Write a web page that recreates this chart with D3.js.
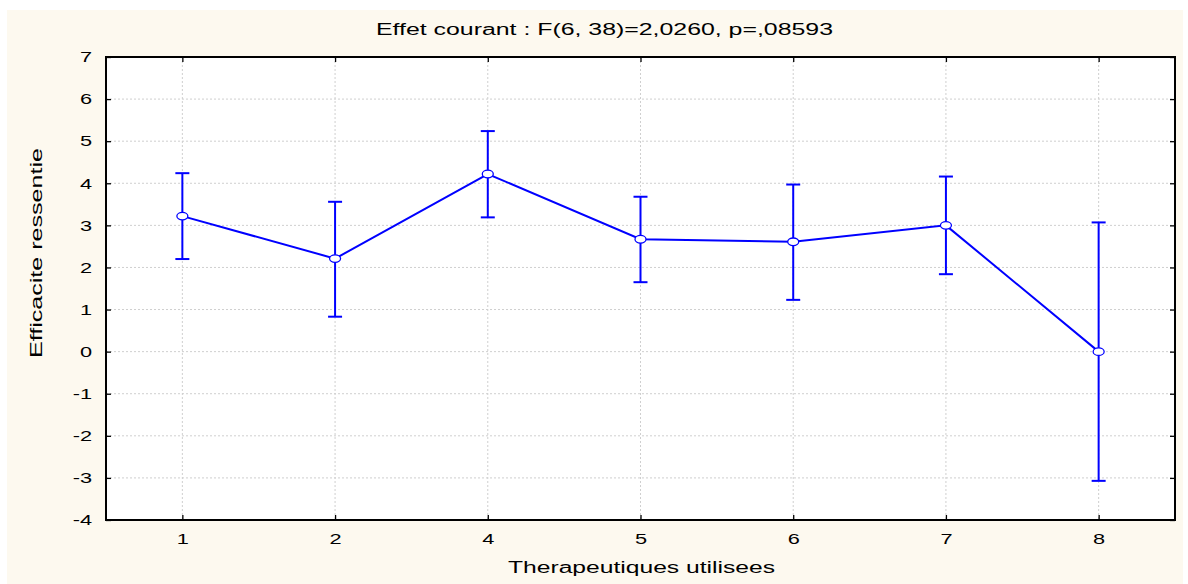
<!DOCTYPE html>
<html><head><meta charset="utf-8">
<script src="https://cdn.jsdelivr.net/npm/d3@7"></script>
<style>body{margin:0;background:#fff;} svg{display:block;} text{font-family:"Liberation Sans",Arial,sans-serif;fill:#000;}</style>
</head><body>
<svg id="c" width="1188" height="584"></svg>
<script>
const categories = ["1","2","4","5","6","7","8"];
const means = [3.22, 2.21, 4.22, 2.67, 2.61, 3.0, 0.0];
const upper = [4.24, 3.56, 5.24, 3.68, 3.97, 4.16, 3.07];
const lower = [2.20, 0.83, 3.19, 1.65, 1.23, 1.84, -3.07];
const yTicks = [-4,-3,-2,-1,0,1,2,3,4,5,6,7];
const titleText = "Effet courant : F(6, 38)=2,0260, p=,08593";
const xLabel = "Therapeutiques utilisees";
const yLabel = "Efficacite ressentie";

const svg = d3.select("#c");
const L=106, T=57, R=1175, B=520;
svg.append("rect").attr("x",7).attr("y",10).attr("width",1176).attr("height",574).attr("fill","#fdf9ef");
svg.append("rect").attr("x",L).attr("y",T).attr("width",R-L).attr("height",B-T).attr("fill","#fff");

const x = d3.scalePoint().domain(categories).range([L,R]).padding(0.5);
const y = d3.scaleLinear().domain([-4,7]).range([B,T]);

function stretch(sel, f){
  sel.each(function(){
    const w = this.getComputedTextLength();
    d3.select(this).attr("textLength", w*f).attr("lengthAdjust","spacingAndGlyphs");
  });
}
function fitTo(sel, w){ sel.attr("textLength", w).attr("lengthAdjust","spacingAndGlyphs"); }

// grid
const g = svg.append("g");
g.selectAll(".hg").data(yTicks.filter(v=>v>-4&&v<7)).join("line")
  .attr("x1",L).attr("x2",R).attr("y1",d=>y(d)).attr("y2",d=>y(d))
  .attr("stroke","#cfcfcf").attr("stroke-width",1).attr("stroke-dasharray","2,2");
g.selectAll(".vg").data(categories).join("line")
  .attr("y1",T).attr("y2",B).attr("x1",d=>x(d)).attr("x2",d=>x(d))
  .attr("stroke","#cfcfcf").attr("stroke-width",1).attr("stroke-dasharray","2,2");

// axes
const ax = (gen, tr) => {
  const a = svg.append("g").attr("transform",tr).call(gen);
  a.select(".domain").remove();
  a.selectAll("line").attr("stroke","#000").attr("stroke-width",1.3);
  a.selectAll("text").style("font-size","15px").style("font-family",'"Liberation Sans",Arial,sans-serif').attr("fill","#000");
  return a;
};
const xa = ax(d3.axisBottom(x).tickSizeInner(-5).tickSizeOuter(0).tickPadding(13), `translate(0,${B})`);
stretch(xa.selectAll("text"), 1.45);
ax(d3.axisTop(x).tickSizeInner(-5).tickSizeOuter(0).tickFormat(""), `translate(0,${T})`);
const ya = ax(d3.axisLeft(y).tickValues(yTicks).tickSizeInner(-5).tickSizeOuter(0).tickPadding(14).tickFormat(d3.format("d")), `translate(${L},0)`);
ya.selectAll("text").text(d=>String(d));
stretch(ya.selectAll("text"), 1.45);
ax(d3.axisRight(y).tickValues(yTicks).tickSizeInner(-5).tickSizeOuter(0).tickFormat(""), `translate(${R},0)`);

svg.append("rect").attr("x",L).attr("y",T).attr("width",R-L).attr("height",B-T)
  .attr("fill","none").attr("stroke","#000").attr("stroke-width",2);

// error bars
const blue="#0000ff";
const eb = svg.append("g").attr("stroke",blue).attr("stroke-width",2);
categories.forEach((c,i)=>{
  const cx=x(c);
  eb.append("line").attr("x1",cx).attr("x2",cx).attr("y1",y(upper[i])).attr("y2",y(lower[i]));
  eb.append("line").attr("x1",cx-7).attr("x2",cx+7).attr("y1",y(upper[i])).attr("y2",y(upper[i]));
  eb.append("line").attr("x1",cx-7).attr("x2",cx+7).attr("y1",y(lower[i])).attr("y2",y(lower[i]));
});
svg.append("path").datum(means).attr("fill","none").attr("stroke",blue).attr("stroke-width",2)
  .attr("d",d3.line().x((d,i)=>x(categories[i])).y(d=>y(d)));
svg.selectAll(".pt").data(means).join("ellipse")
  .attr("cx",(d,i)=>x(categories[i])).attr("cy",d=>y(d)).attr("rx",5.5).attr("ry",3.8)
  .attr("fill","#fff").attr("stroke",blue).attr("stroke-width",1.3);

fitTo(svg.append("text").attr("x",604.5).attr("y",35).attr("text-anchor","middle").style("font-size","16px").text(titleText), 457);
fitTo(svg.append("text").attr("x",641.5).attr("y",573).attr("text-anchor","middle").style("font-size","16px").text(xLabel), 267);
fitTo(svg.append("text").attr("transform","translate(42,253) rotate(-90)").attr("text-anchor","middle")
  .style("font-size","16px").text(yLabel), 210);
</script>
</body></html>
